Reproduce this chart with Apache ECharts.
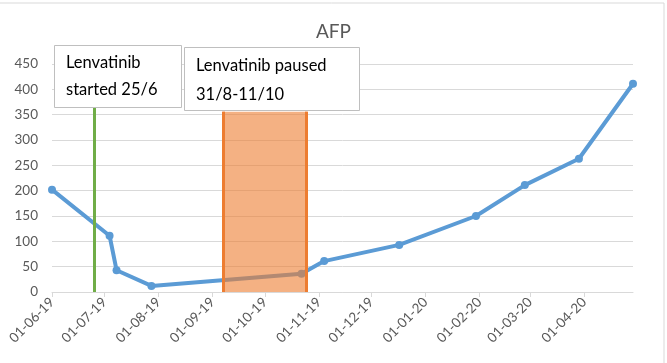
<!DOCTYPE html>
<html>
<head>
<meta charset="utf-8">
<script src="https://cdn.jsdelivr.net/npm/echarts@6/dist/echarts.min.js"></script>
<style>html,body{margin:0;padding:0;background:#fff}#c{width:667px;height:363px}</style>
</head>
<body>
<div id="c"></div>
<script>
const dates = ['2019-06-01','2019-07-04','2019-07-08','2019-07-28','2019-10-22','2019-11-04','2019-12-17','2020-01-30','2020-02-27','2020-03-29','2020-04-29'];
const afp = [202, 111, 43, 12, 36, 61, 93, 150, 211, 263, 411];
const monthTicks = ['2019-06-01','2019-07-01','2019-08-01','2019-09-01','2019-10-01','2019-11-01','2019-12-01','2020-01-01','2020-02-01','2020-03-01','2020-04-01'];
const yTicks = [0, 50, 100, 150, 200, 250, 300, 350, 400, 450];
const startDate = '2019-06-25';
const pauseStart = '2019-09-07';
const pauseEnd = '2019-10-25';
const annotations = ['Lenvatinib\nstarted 25/6', 'Lenvatinib paused\n31/8-11/10'];

function ts(s){const p=s.split('-').map(Number);return Date.UTC(p[0],p[1]-1,p[2]);}
function fmt(v){const d=new Date(v);const p=n=>String(n).padStart(2,'0');return p(d.getUTCDate())+'-'+p(d.getUTCMonth()+1)+'-'+p(d.getUTCFullYear()%100);}

const chart = echarts.init(document.getElementById('c'));
const font = 'Lato, "Open Sans", sans-serif';
chart.setOption({
  animation: false,
  title: {text: 'AFP', left: 'center', top: 17, textStyle: {fontFamily: font, fontSize: 19, fontWeight: 'normal', color: '#595959'}},
  grid: {left: 52, right: 34, top: 64, bottom: 71, containLabel: false},
  xAxis: {
    type: 'value',
    min: ts(dates[0]), max: ts(dates[dates.length-1]),
    splitLine: {show: false},
    axisLine: {show: true, lineStyle: {color: '#d9d9d9', width: 1}},
    axisTick: {show: true, customValues: monthTicks.map(ts), length: 5, lineStyle: {color: '#d9d9d9'}},
    axisLabel: {customValues: monthTicks.map(ts), formatter: fmt, rotate: 45, fontFamily: font, fontSize: 13.5, color: '#595959', margin: 8}
  },
  yAxis: {
    type: 'value', min: yTicks[0], max: yTicks[yTicks.length-1], interval: 50,
    axisLine: {show: false}, axisTick: {show: false},
    splitLine: {lineStyle: {color: '#d9d9d9', width: 1}},
    axisLabel: {fontFamily: font, fontSize: 13.5, color: '#595959', margin: 14}
  },
  series: [
    {
      type: 'line', name: 'AFP', z: 2,
      data: dates.map((d,i)=>[ts(d), afp[i]]),
      lineStyle: {color: '#5B9BD5', width: 4},
      itemStyle: {color: '#5B9BD5'},
      symbol: 'circle', symbolSize: 8,
      markLine: {
        silent: true, symbol: 'none', label: {show: false}, z: 3,
        lineStyle: {color: '#70AD47', width: 3, type: 'solid'},
        data: [[{xAxis: ts(startDate), yAxis: 0}, {xAxis: ts(startDate), yAxis: 364}]]
      }
    },
    {
      type: 'line', name: 'pause', z: 5, data: [],
      markArea: {
        silent: true, z: 5,
        itemStyle: {color: 'rgba(237,125,49,0.6)'},
        data: [[{xAxis: ts(pauseStart), yAxis: -2}, {xAxis: ts(pauseEnd), yAxis: 356}]]
      },
      markLine: {
        silent: true, symbol: 'none', label: {show: false}, z: 6,
        lineStyle: {color: '#ED7D31', width: 3, type: 'solid'},
        data: [
          [{xAxis: ts(pauseStart), yAxis: 0}, {xAxis: ts(pauseStart), yAxis: 356}],
          [{xAxis: ts(pauseEnd), yAxis: 0}, {xAxis: ts(pauseEnd), yAxis: 356}]
        ]
      }
    }
  ],
  graphic: [
    {type: 'rect', z: 0, silent: true, shape: {x: -2, y: 3, width: 666, height: 380}, style: {fill: 'none', stroke: '#d9d9d9', lineWidth: 1}},
    {type: 'rect', z: 100, shape: {x: 54.5, y: 45.5, width: 127, height: 62}, style: {fill: '#fff', stroke: '#bfbfbf', lineWidth: 1}},
    {type: 'text', z: 101, x: 66, y: 49, style: {text: annotations[0], fontFamily: font, fontSize: 16.5, lineHeight: 27, fill: '#000'}},
    {type: 'rect', z: 100, shape: {x: 184.5, y: 47.5, width: 175, height: 63}, style: {fill: '#fff', stroke: '#bfbfbf', lineWidth: 1}},
    {type: 'text', z: 101, x: 196, y: 51, style: {text: annotations[1], fontFamily: font, fontSize: 16.5, lineHeight: 29, fill: '#000'}}
  ]
});
</script>
</body>
</html>
